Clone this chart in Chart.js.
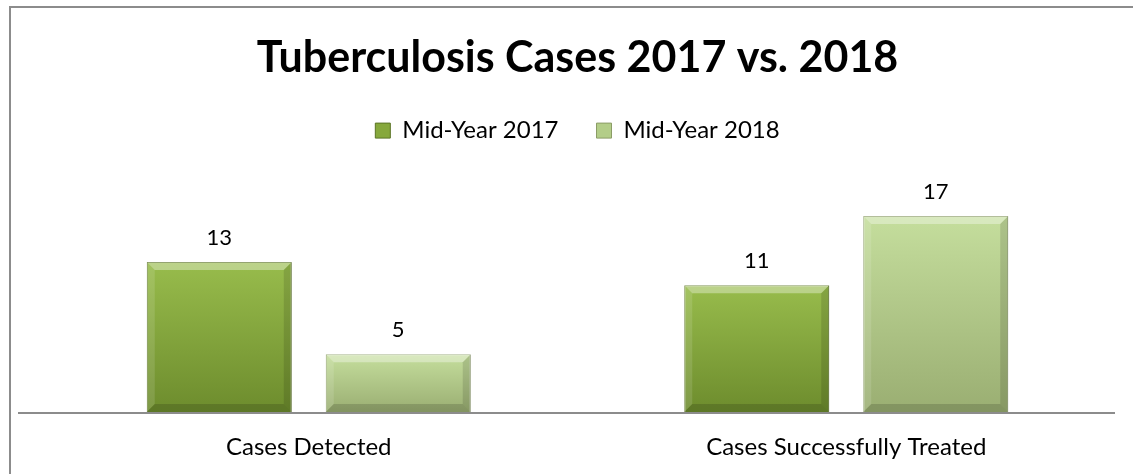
<!DOCTYPE html>
<html>
<head>
<meta charset="utf-8">
<script src="https://cdn.jsdelivr.net/npm/chart.js@4.4.1/dist/chart.umd.min.js"></script>
<style>
  html, body { margin: 0; padding: 0; background: #fff; overflow: hidden; }
  canvas { display: block; }
</style>
</head>
<body>
<canvas id="tbChart" width="1133" height="474"></canvas>
<script>
const categories = ['Cases Detected', 'Cases Successfully Treated'];
const seriesNames = ['Mid-Year 2017', 'Mid-Year 2018'];
const values2017 = [13, 11];
const values2018 = [5, 17];

// top / bottom colours of each series' gradient
const shades = [
    { top: '#98bc4c', bottom: '#6d8c2d', solid: '#86a83c', edge: '#5b7425' },
    { top: '#c5de9d', bottom: '#9aae72', solid: '#b3cd88', edge: '#8b9c66' }
];
const fontFamily = 'Lato, "Open Sans", sans-serif';

function barFill(idx) {
    return function (context) {
        const chart = context.chart;
        const y = chart.scales.y;
        if (!y || context.raw === undefined) return shades[idx].solid;
        const top = y.getPixelForValue(context.raw);
        const base = y.getPixelForValue(0);
        const g = chart.ctx.createLinearGradient(0, top, 0, base);
        g.addColorStop(0, shades[idx].top);
        g.addColorStop(1, shades[idx].bottom);
        return g;
    };
}

// outer frame of the chart object
const frame = {
    id: 'frame',
    beforeDraw(chart) {
        const ctx = chart.ctx;
        ctx.save();
        ctx.strokeStyle = '#8c8c8c';
        ctx.lineWidth = 2;
        ctx.beginPath();
        ctx.moveTo(10, chart.height);
        ctx.lineTo(10, 7);
        ctx.lineTo(chart.width, 7);
        ctx.stroke();
        ctx.restore();
    }
};

// bevel edges, value labels and the long axis line
const extras = {
    id: 'extras',
    afterDatasetsDraw(chart) {
        const ctx = chart.ctx;
        const area = chart.chartArea;
        chart.data.datasets.forEach((ds, di) => {
            const meta = chart.getDatasetMeta(di);
            meta.data.forEach((bar, i) => {
                const l = bar.x - bar.width / 2, r = bar.x + bar.width / 2;
                const t = bar.y, b = bar.base, e = 8;
                ctx.save();
                ctx.fillStyle = 'rgba(255,255,255,0.35)';
                ctx.beginPath();
                ctx.moveTo(l, t); ctx.lineTo(r, t); ctx.lineTo(r - e, t + e); ctx.lineTo(l + e, t + e);
                ctx.fill();
                ctx.fillStyle = 'rgba(255,255,255,0.12)';
                ctx.beginPath();
                ctx.moveTo(l, t); ctx.lineTo(l + e, t + e); ctx.lineTo(l + e, b - e); ctx.lineTo(l, b);
                ctx.fill();
                ctx.fillStyle = 'rgba(0,0,0,0.12)';
                ctx.beginPath();
                ctx.moveTo(r, t); ctx.lineTo(r - e, t + e); ctx.lineTo(r - e, b - e); ctx.lineTo(r, b);
                ctx.fill();
                ctx.fillStyle = 'rgba(0,0,0,0.15)';
                ctx.beginPath();
                ctx.moveTo(l, b); ctx.lineTo(l + e, b - e); ctx.lineTo(r - e, b - e); ctx.lineTo(r, b);
                ctx.fill();
                ctx.restore();

                ctx.save();
                ctx.fillStyle = '#000';
                ctx.font = '22px ' + fontFamily;
                ctx.textAlign = 'center';
                ctx.textBaseline = 'alphabetic';
                ctx.fillText(ds.data[i], bar.x, bar.y - 17);
                ctx.restore();
            });
        });
        ctx.save();
        ctx.strokeStyle = '#8c8c8c';
        ctx.lineWidth = 2;
        ctx.beginPath();
        ctx.moveTo(18, area.bottom + 1);
        ctx.lineTo(area.right, area.bottom + 1);
        ctx.stroke();
        ctx.restore();
    }
};

const ctx = document.getElementById('tbChart').getContext('2d');
new Chart(ctx, {
    type: 'bar',
    data: {
        labels: categories,
        datasets: seriesNames.map((name, i) => ({
            label: name,
            data: i === 0 ? values2017 : values2018,
            backgroundColor: barFill(i),
            borderColor: shades[i].edge,
            borderWidth: 1,
            barPercentage: 0.81,
            categoryPercentage: 0.666
        }))
    },
    options: {
        responsive: false,
        animation: false,
        layout: { padding: { left: 40, right: 18, top: 0, bottom: 0 } },
        scales: {
            x: {
                grid: { display: false },
                border: { display: false },
                ticks: {
                    color: '#000',
                    padding: 13,
                    font: { family: fontFamily, size: 24 }
                },
                afterFit(scale) { scale.height = 62; }
            },
            y: {
                display: false,
                min: 0,
                max: 22.5
            }
        },
        plugins: {
            title: {
                display: true,
                text: 'Tuberculosis Cases 2017 vs. 2018',
                color: '#000',
                padding: { top: 32, bottom: -3 },
                font: { family: fontFamily, size: 43, weight: 'bold' }
            },
            legend: {
                display: true,
                labels: {
                    color: '#000',
                    boxWidth: 15,
                    boxHeight: 15,
                    padding: 38,
                    font: { family: fontFamily, size: 24 },
                    generateLabels(chart) {
                        return chart.data.datasets.map((ds, i) => ({
                            text: ds.label,
                            fillStyle: shades[i].solid,
                            strokeStyle: shades[i].edge,
                            lineWidth: 1,
                            fontColor: '#000',
                            datasetIndex: i
                        }));
                    }
                }
            },
            tooltip: { enabled: false }
        }
    },
    plugins: [frame, extras]
});
</script>
</body>
</html>
